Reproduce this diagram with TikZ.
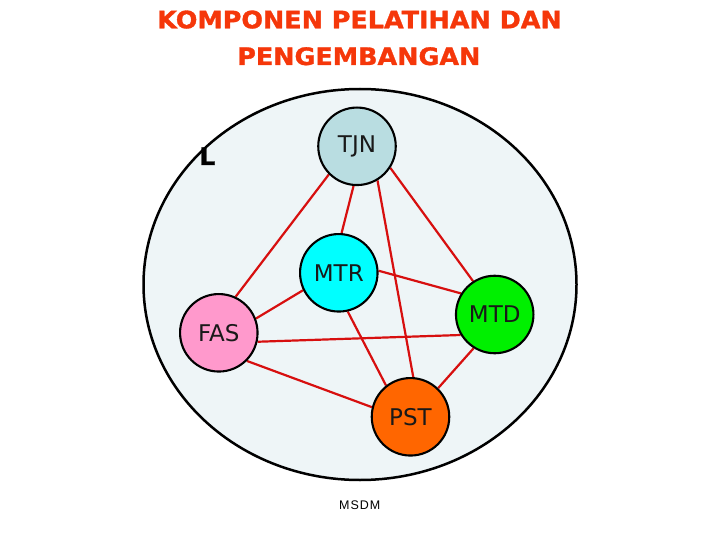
\documentclass[tikz,border=0pt]{standalone}
\usepackage{fontspec}
\newfontfamily\titlefont[FakeStretch=1.06,BoldFeatures={FakeBold=1.3}]{DejaVu Sans}
\newfontfamily\nodefont{DejaVu Sans}
\newfontfamily\smallfont[LetterSpace=8]{Liberation Sans}
\definecolor{titlered}{RGB}{245,55,10}
\definecolor{bgfill}{RGB}{238,245,247}
\definecolor{tjnfill}{RGB}{185,221,225}
\definecolor{mtrfill}{RGB}{0,255,255}
\definecolor{fasfill}{RGB}{255,153,204}
\definecolor{mtdfill}{RGB}{0,240,0}
\definecolor{pstfill}{RGB}{255,102,0}
\definecolor{linkred}{RGB}{215,15,15}
\pgfdeclarelayer{background}
\pgfsetlayers{background,main}
\tikzset{
  topic/.style={circle, draw=black, line width=2.1pt, minimum size=77.5pt, inner sep=0pt,
    font=\nodefont\fontsize{23}{26}\selectfont, text=black!90},
  link/.style={draw=linkred, line width=2.2pt},
  titletext/.style={anchor=base, text=titlered, inner sep=0pt,
    font=\titlefont\bfseries\fontsize{24}{27}\selectfont},
}
\begin{document}
\begin{tikzpicture}[x=1pt,y=-1pt]
\useasboundingbox (0,0) rectangle (720,540);
\node[titletext] (t1) at (359.5,28.3) {KOMPONEN PELATIHAN DAN};
\node[titletext] (t2) at (358.8,65) {PENGEMBANGAN};

\node[topic, fill=tjnfill] (TJN) at (357,146.3) {TJN};
\node[topic, fill=mtrfill] (MTR) at (338.8,272.8) {MTR};
\node[topic, fill=fasfill] (FAS) at (218.8,332.8) {FAS};
\node[topic, fill=mtdfill] (MTD) at (494.7,314.5) {MTD};
\node[topic, fill=pstfill] (PST) at (410.5,416.8) {PST};

\node[anchor=base west, inner sep=0pt, font=\titlefont\bfseries\fontsize{24}{26}\selectfont] (L) at (199,165) {L};
\node[anchor=base, inner sep=0pt, font=\smallfont\fontsize{12.5}{14}\selectfont] (msdm) at (359.7,509) {MSDM};

\begin{pgfonlayer}{background}
\draw[black, line width=2.5pt, fill=bgfill] (360,284.5) ellipse [x radius=216.5pt, y radius=195.5pt];
\draw[link] (TJN.225) -- (FAS.65);
\draw[link] (TJN.265) -- (MTR.86);
\draw[link] (TJN.301) -- (PST.86);
\draw[link] (TJN.327) -- (MTD.123);
\draw[link] (MTR.3) -- (MTD.148);
\draw[link] (MTR.206) -- (FAS.21);
\draw[link] (MTR.283) -- (PST.128);
\draw[link] (FAS.-13) -- (MTD.211);
\draw[link] (FAS.-45) -- (PST.166);
\draw[link] (MTD.238) -- (PST.46);
\end{pgfonlayer}
\end{tikzpicture}
\end{document}
